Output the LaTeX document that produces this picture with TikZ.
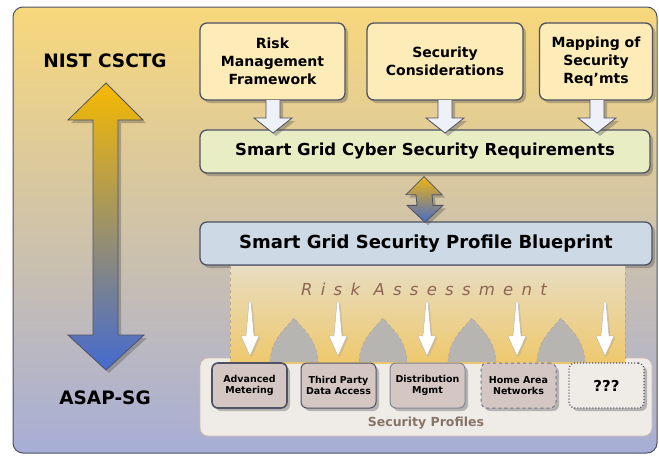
\documentclass[tikz,border=0pt]{standalone}
\usepackage{fontspec}
\setmainfont{DejaVu Sans}
\usetikzlibrary{shadows,calc}
\definecolor{edgegrey}{HTML}{4F5265}
\definecolor{boxyellow}{HTML}{FDEBB8}
\definecolor{boxgreen}{HTML}{E8EDC4}
\definecolor{boxblue}{HTML}{CDD9E4}
\definecolor{profgrey}{HTML}{D4C7C3}
\definecolor{panelgrey}{HTML}{EFECE8}
\definecolor{arrowwhite}{HTML}{EEF1F8}
\definecolor{archgrey}{HTML}{B7B5B2}
\definecolor{riskbrown}{HTML}{8C6652}
\begin{document}
\begin{tikzpicture}[x=1pt,y=-1pt,
		softshadow/.style = {drop shadow={shadow xshift=3pt, shadow yshift=-3pt, opacity=0.35, fill=black!70}},
		topbox/.style = {shape=rectangle, rounded corners=7pt, draw=edgegrey, line width=1.3pt,
			fill=boxyellow, align=center, font=\bfseries\fontsize{14}{18}\selectfont, softshadow},
		widebox/.style = {topbox, minimum width=450pt, minimum height=43pt, font=\bfseries\fontsize{16.5}{19}\selectfont},
		profbox/.style = {shape=rectangle, rounded corners=6pt, draw=edgegrey, line width=1pt,
			fill=profgrey, align=center, minimum width=75pt, minimum height=45pt,
			font=\bfseries\fontsize{9.5}{11}\selectfont, softshadow},
		whitearrow/.style = {fill=arrowwhite, draw=edgegrey, line width=0.8pt, line join=miter, softshadow},
		thinarrow/.style = {fill=white, draw=black!30, line width=0.4pt, drop shadow={shadow xshift=1.5pt, shadow yshift=-1.5pt, opacity=0.2}}]
	\useasboundingbox (0,0) rectangle (659,456);
	% background panel
	\shadedraw[rounded corners=10pt, top color={rgb,255:red,248;green,216;blue,124},
		middle color={rgb,255:red,214;green,202;blue,170},
		bottom color={rgb,255:red,167;green,174;blue,214}, draw=edgegrey, line width=1pt]
		(13,7) rectangle (657,453);
	% left arrow
	\node[font=\bfseries\fontsize{18.5}{20}\selectfont] (nist) at (105,61) {NIST CSCTG};
	\node[font=\bfseries\fontsize{18.5}{20}\selectfont] (asap) at (105,398) {ASAP-SG};
	\shadedraw[top color={rgb,255:red,246;green,186;blue,0}, middle color={rgb,255:red,154;green,146;blue,114},
		bottom color={rgb,255:red,68;green,106;blue,208}, draw=edgegrey, line width=0.8pt, line join=miter, softshadow]
		(106,83) -- (143,120) -- (118,120) -- (118,335) -- (144,335)
		-- (106,370) -- (68,335) -- (93,335) -- (93,120) -- (68,120) -- cycle;
	% input boxes
	\node[topbox, minimum width=145pt, minimum height=77pt] (rmf) at (272.5,61.5) {Risk\\Management\\Framework};
	\node[topbox, minimum width=156pt, minimum height=77pt] (seccon) at (445,61.5) {Security\\Considerations};
	\node[topbox, minimum width=113pt, minimum height=77pt] (mapreq) at (596,61.5) {Mapping of\\Security\\Req'mts};
	\node[widebox, fill=boxgreen] (cyberreq) at (425,151.5) {Smart Grid Cyber Security Requirements};
	\node[widebox, fill=boxblue, minimum width=452pt, font=\bfseries\fontsize{18}{20}\selectfont] (blueprint) at (426,243.5) {Smart Grid Security Profile Blueprint};
	% white arrows into requirements
	\foreach \src/\ax in {rmf/273, seccon/445, mapreq/597}
		\draw[whitearrow] (\ax-7,100) -- (\ax-7,118) -- (\ax-19,118) -- (\ax,133)
			-- (\ax+19,118) -- (\ax+7,118) -- (\ax+7,100);
	% two-way arrow
	\coordinate (uptip) at ($(cyberreq.south)+(-1,3)$);
	\coordinate (downtip) at ($(blueprint.north)+(-1,1)$);
	\shadedraw[top color={rgb,255:red,240;green,180;blue,20}, bottom color={rgb,255:red,70;green,108;blue,200},
		draw=edgegrey, line width=0.8pt, line join=miter, softshadow]
		(uptip) -- ($(uptip)+(18,18)$) -- ($(uptip)+(8,18)$) -- ($(downtip)+(8,-17)$) -- ($(downtip)+(18,-17)$)
		-- (downtip) -- ($(downtip)+(-18,-17)$) -- ($(downtip)+(-8,-17)$) -- ($(uptip)+(-8,18)$) -- ($(uptip)+(-18,18)$) -- cycle;
	% profiles panel
	\node[shape=rectangle, rounded corners=8pt, draw={rgb,255:red,205;green,185;blue,172}, line width=0.8pt,
		fill=panelgrey, minimum width=452pt, minimum height=78pt] (profiles) at (426,397) {};
	\node[font=\bfseries\fontsize{12.5}{14}\selectfont, text={rgb,255:red,134;green,116;blue,103}] (proflabel) at (426,423) {Security Profiles};
	% risk assessment band
	\shade[top color={rgb,255:red,232;green,221;blue,194}, bottom color={rgb,255:red,238;green,200;blue,108}]
		(230,266) rectangle (625,363);
	\draw[dashed, draw=riskbrown!60, line width=0.6pt] (230,266) -- (230,362) (625,266) -- (625,362);
	\foreach \p in {294,383,472,561} {
		\fill[archgrey] (\p-24,362) .. controls (\p-23,340) and (\p-10,330) .. (\p,318)
			.. controls (\p+10,330) and (\p+23,340) .. (\p+24,362) -- cycle;
		\draw[dashed, draw=riskbrown!60, line width=0.6pt] (\p-24,362) .. controls (\p-23,340) and (\p-10,330) .. (\p,318)
			.. controls (\p+10,330) and (\p+23,340) .. (\p+24,362);
	}
	\node[font=\itshape\fontsize{16.5}{18}\selectfont\addfontfeature{LetterSpace=50}, text=riskbrown] (risk) at (424,289) {Risk Assessment};
	\foreach \ax in {250,338,427,517,605}
		\draw[thinarrow] (\ax-1,302) -- (\ax+1,302) -- (\ax+4,336) -- (\ax+9,336) -- (\ax,356)
			-- (\ax-9,336) -- (\ax-4,336) -- cycle;
	% profiles
	\node[profbox, line width=1.6pt] (metering) at (249.5,385.5) {Advanced\\Metering};
	\node[profbox] (thirdparty) at (338.5,385.5) {Third Party\\Data Access};
	\node[profbox, draw=edgegrey!70] (distmgmt) at (427.5,385.5) {Distribution\\Mgmt};
	\node[profbox, dashed, draw=edgegrey!80] (homenet) at (518.5,385.5) {Home Area\\Networks};
	\node[profbox, dotted, line width=1.3pt, fill=panelgrey, font=\bfseries\fontsize{15}{16}\selectfont] (unknown) at (606.5,385.5) {???};
\end{tikzpicture}
\end{document}
